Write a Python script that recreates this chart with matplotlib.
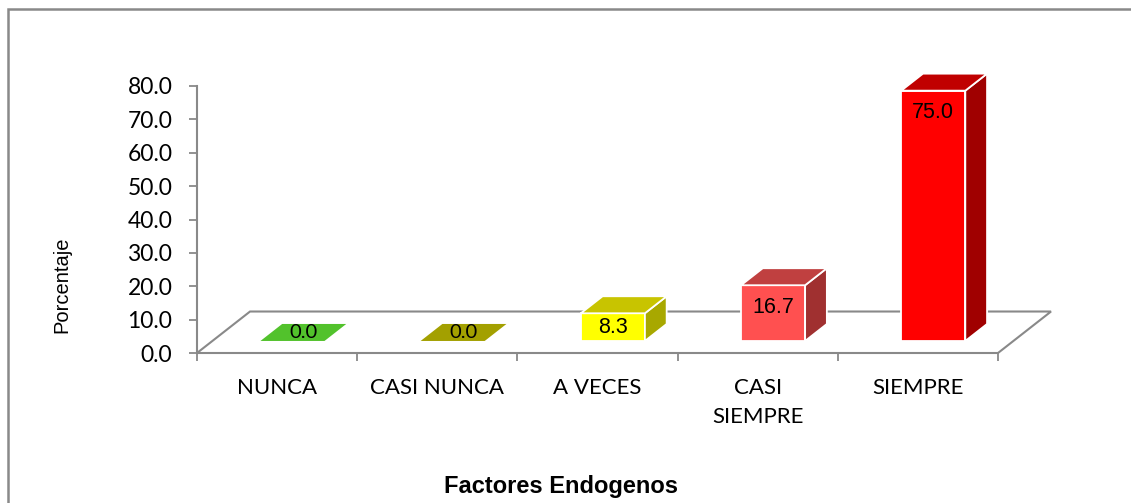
import matplotlib
matplotlib.use("Agg")
import matplotlib.pyplot as plt
from matplotlib.patches import Polygon, Rectangle
from matplotlib.ticker import FormatStrFormatter

categories = ["NUNCA", "CASI NUNCA", "A VECES", "CASI\nSIEMPRE", "SIEMPRE"]
values = [0.0, 0.0, 8.3, 16.7, 75.0]
yticks = [0, 10, 20, 30, 40, 50, 60, 70, 80]
ylabel = "Porcentaje"
xlabel = "Factores Endogenos"

front_colors = ["#5CD030", "#A8A400", "#FFFF00", "#FF5050", "#FF0000"]
top_colors = ["#52C22C", "#A3A000", "#C8C400", "#C04040", "#C00000"]
side_colors = ["#40A020", "#888400", "#A8A800", "#A03030", "#A00000"]

GRAY = "#898989"
W, H = 1131, 503
fig = plt.figure(figsize=(W / 100, H / 100), dpi=100)
ax = fig.add_axes([197 / W, (H - 353) / H, (998 - 197) / W, (353 - 86) / H])
ax.set_xlim(0, len(categories))
ax.set_ylim(0, 80)

# depth of floor (in data units) and bar placement along depth
ddx, ddy = 0.331, 12.43
f0, f1 = 0.29, 0.70
half_w = 0.2

# spines
for s in ["top", "right", "bottom"]:
    ax.spines[s].set_visible(False)
ax.spines["left"].set_color(GRAY)
ax.spines["left"].set_linewidth(1.5)

# y ticks
ax.set_yticks(yticks)
ax.yaxis.set_major_formatter(FormatStrFormatter("%.1f"))
ax.tick_params(axis="y", direction="out", length=5.8, width=1.3, color=GRAY,
               pad=12, labelsize=16.5)
for lbl in ax.get_yticklabels():
    lbl.set_fontfamily("Lato")

# x ticks: boundaries as marks, centers as labels
n = len(categories)
ax.set_xticks(list(range(n + 1)))
ax.set_xticklabels([""] * (n + 1))
ax.tick_params(axis="x", which="major", direction="out", length=6, width=1.3, color=GRAY)
ax.set_xticks([i + 0.5 for i in range(n)], minor=True)
ax.set_xticklabels(categories, minor=True)
ax.tick_params(axis="x", which="minor", length=0, pad=18, labelsize=16)
for lbl in ax.get_xticklabels(minor=True):
    lbl.set_fontfamily("Lato")
    lbl.set_linespacing(1.55)
    lbl.set_multialignment("center")

# floor
floor = Polygon([(0, 0), (n, 0), (n + ddx, ddy), (ddx, ddy)], closed=True,
                facecolor="white", edgecolor=GRAY, linewidth=1.5, clip_on=False, zorder=1)
ax.add_patch(floor)

# bars
for i, v in enumerate(values):
    cx = i + 0.5
    ox, oy = f0 * ddx, f0 * ddy
    bx, by = (f1 - f0) * ddx, (f1 - f0) * ddy
    x0, x1 = cx - half_w + ox, cx + half_w + ox
    y0, y1 = oy, oy + v
    ec = "white" if v > 0 else "none"
    if v > 0:
        front = Polygon([(x0, y0), (x1, y0), (x1, y1), (x0, y1)], closed=True,
                        facecolor=front_colors[i], edgecolor=ec, linewidth=1.3,
                        clip_on=False, zorder=3)
        side = Polygon([(x1, y0), (x1 + bx, y0 + by), (x1 + bx, y1 + by), (x1, y1)], closed=True,
                       facecolor=side_colors[i], edgecolor=ec, linewidth=1.3,
                       clip_on=False, zorder=3)
        ax.add_patch(front)
        ax.add_patch(side)
    top = Polygon([(x0, y1), (x1, y1), (x1 + bx, y1 + by), (x0 + bx, y1 + by)], closed=True,
                  facecolor=top_colors[i], edgecolor=ec, linewidth=1.3,
                  clip_on=False, zorder=3)
    ax.add_patch(top)
    if v == 0:
        lx = cx + ox + bx / 2
        ly = y1 + by / 2
        ax.text(lx, ly, f"{v:.1f}", ha="center", va="center", fontsize=14.5,
                family="Lato", color="black", zorder=5)
    else:
        lx = (x0 + x1) / 2
        ly = max(y1 - 6.6, (y0 + y1) / 2)
        ax.text(lx, ly, f"{v:.1f}", ha="center", va="center", fontsize=15.5,
                family="Liberation Sans", color="black", zorder=5)

# y label
ax.set_ylabel(ylabel, fontsize=14.5, family="Liberation Sans")
ax.yaxis.set_label_coords((71 - 197) / (998 - 197), (353 - 285) / (353 - 86))

# x title
fig.text(561 / W, 1 - 486 / H, xlabel, ha="center", va="center", fontsize=17,
         fontweight="bold", family="Liberation Sans")

# chart border (left and top visible)
border = Rectangle((8 / W, -0.2), 2.0, 1 - 9 / H + 0.2, transform=fig.transFigure,
                   facecolor="none", edgecolor=GRAY, linewidth=1.8)
fig.add_artist(border)

fig.savefig("out.png", dpi=100)
